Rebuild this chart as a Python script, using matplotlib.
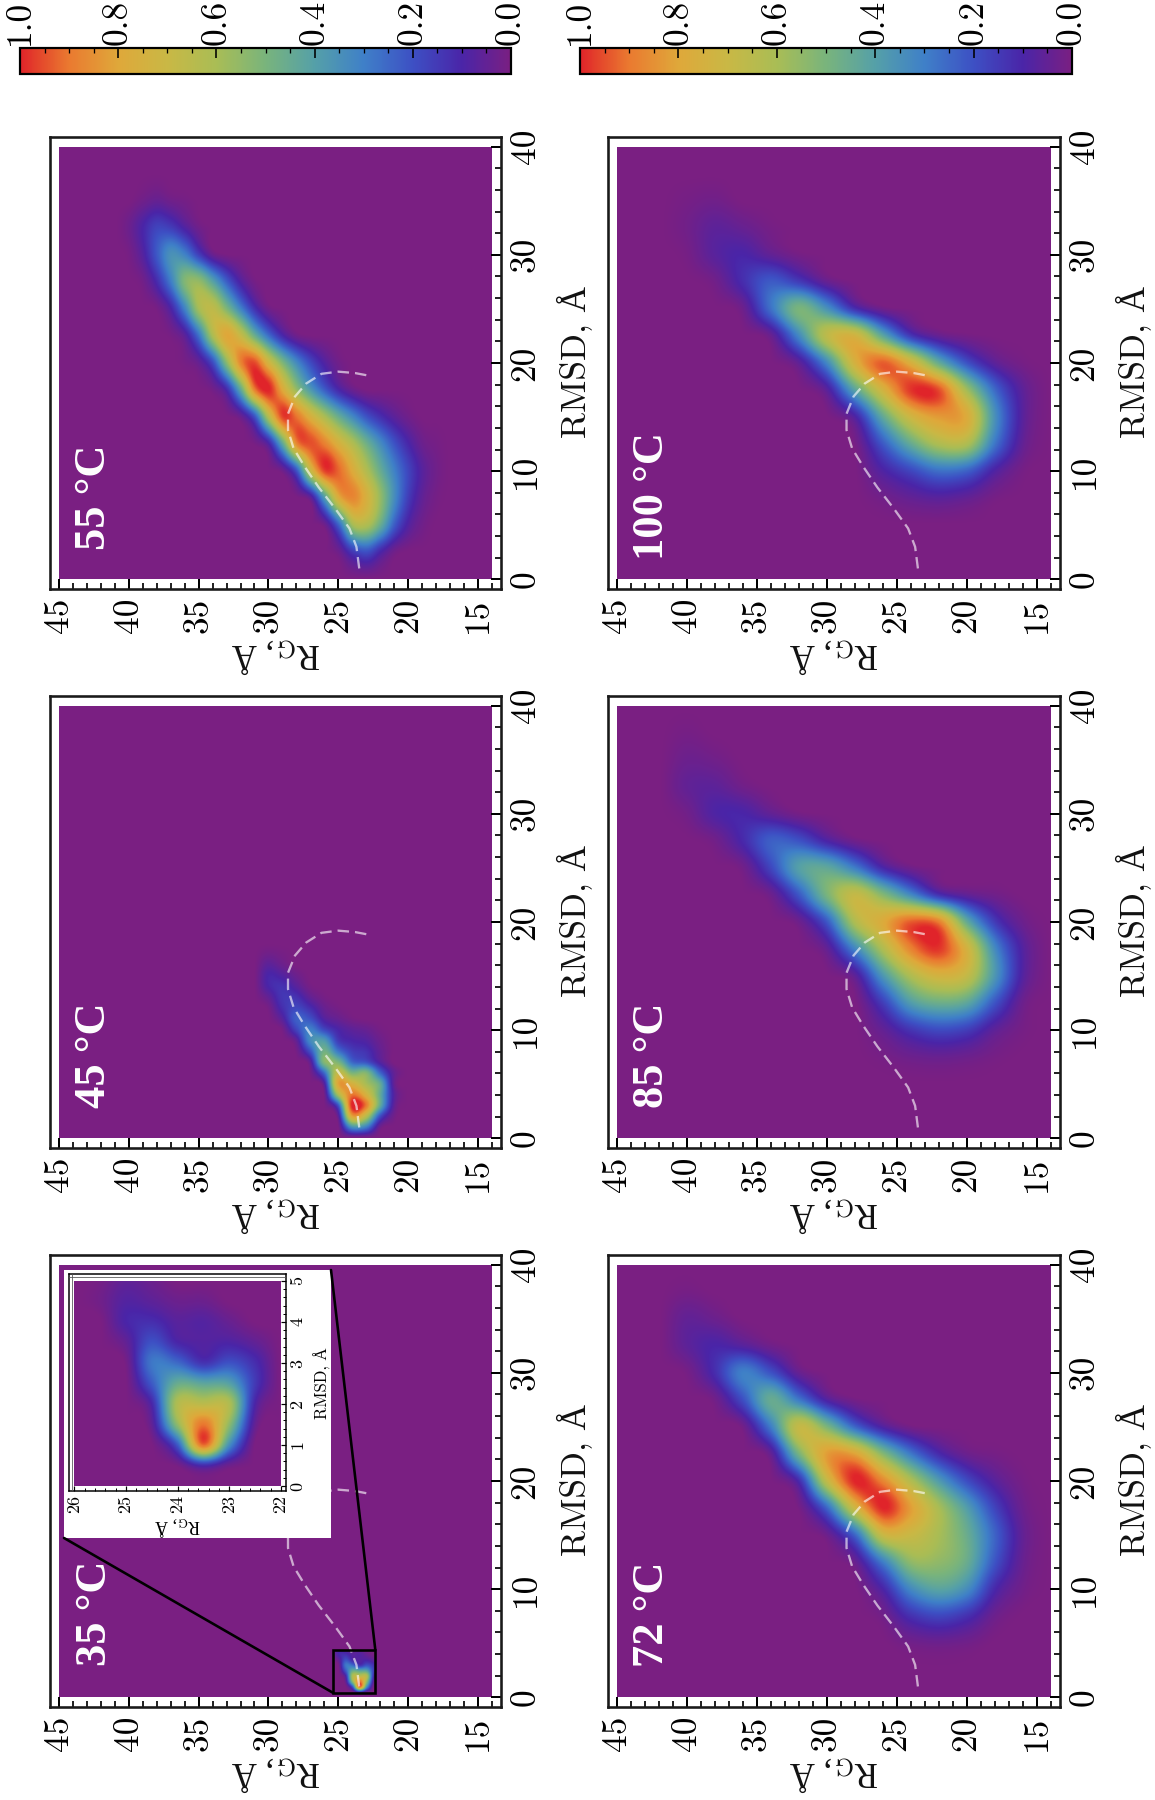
import numpy as np
import matplotlib
matplotlib.use("Agg")
import matplotlib.pyplot as plt
from matplotlib.colors import LinearSegmentedColormap, Normalize
from matplotlib.cm import ScalarMappable
from matplotlib.patches import Rectangle, ConnectionPatch
from matplotlib.lines import Line2D

plt.rcParams['mathtext.fontset'] = 'cm'
plt.rcParams['font.family'] = ['cmr10', 'Liberation Serif']
plt.rcParams['axes.unicode_minus'] = False

W, H = 1155, 1800
DPI = 100
PX = 72 / DPI

# ---------- data ----------
rg_coarse = [40, 38, 36, 34, 32, 30, 28, 26, 24, 22, 20, 18, 16]
rmsd_coarse = [37.5, 35, 32.5, 30, 27.5, 25, 22.5, 20, 17.5, 15, 12.5, 10, 7.5, 5, 2.5, 0]

rg_55 = [40, 39, 38, 37, 36, 35, 34, 33, 32, 31, 30, 29, 28, 27, 26, 25, 24, 23, 22, 21, 20, 19, 18]
rmsd_55 = [35, 32.5, 30, 27.5, 25, 22.5, 20, 17.5, 15, 12.5, 10, 7.5, 5, 2.5, 0]
d55 = [
    [0, .02, .04, .02, .01, 0, 0, 0, 0, 0, 0, 0, 0, 0, 0, 0, 0, 0, 0, 0, 0, 0, 0],
    [.03, .1, .17, .15, .08, .02, 0, 0, 0, 0, 0, 0, 0, 0, 0, 0, 0, 0, 0, 0, 0, 0, 0],
    [.01, .08, .22, .35, .3, .15, .03, 0, 0, 0, 0, 0, 0, 0, 0, 0, 0, 0, 0, 0, 0, 0, 0],
    [0, .02, .12, .3, .52, .55, .4, .22, .08, .01, 0, 0, 0, 0, 0, 0, 0, 0, 0, 0, 0, 0, 0],
    [0, 0, .01, .1, .32, .6, .66, .5, .3, .12, .02, 0, 0, 0, 0, 0, 0, 0, 0, 0, 0, 0, 0],
    [0, 0, 0, .01, .07, .28, .62, .8, .68, .45, .25, .1, .02, 0, 0, 0, 0, 0, 0, 0, 0, 0, 0],
    [0, 0, 0, 0, .01, .05, .2, .55, .88, .95, .72, .5, .32, .18, .08, .02, 0, 0, 0, 0, 0, 0, 0],
    [0, 0, 0, 0, 0, 0, .02, .12, .45, .9, 1.0, .78, .55, .37, .22, .1, .03, 0, 0, 0, 0, 0, 0],
    [0, 0, 0, 0, 0, 0, 0, 0, .04, .22, .65, .97, .9, .75, .6, .45, .32, .2, .12, .06, .02, 0, 0],
    [0, 0, 0, 0, 0, 0, 0, 0, 0, .01, .1, .45, .88, .95, .88, .75, .62, .47, .33, .2, .1, .03, .01],
    [0, 0, 0, 0, 0, 0, 0, 0, 0, 0, 0, .03, .22, .7, .97, .92, .78, .62, .45, .3, .17, .07, .02],
    [0, 0, 0, 0, 0, 0, 0, 0, 0, 0, 0, 0, 0, .06, .4, .78, .87, .75, .55, .33, .15, .05, .01],
    [0, 0, 0, 0, 0, 0, 0, 0, 0, 0, 0, 0, 0, 0, .03, .25, .6, .62, .45, .22, .08, .02, 0],
    [0, 0, 0, 0, 0, 0, 0, 0, 0, 0, 0, 0, 0, 0, 0, .03, .15, .2, .1, .02, 0, 0, 0],
    [0, 0, 0, 0, 0, 0, 0, 0, 0, 0, 0, 0, 0, 0, 0, 0, 0, 0, 0, 0, 0, 0, 0],
]

d100 = [
    [0, 0, 0, 0, 0, 0, 0, 0, 0, 0, 0, 0, 0],
    [.01, .02, 0, 0, 0, 0, 0, 0, 0, 0, 0, 0, 0],
    [.02, .06, .04, .01, 0, 0, 0, 0, 0, 0, 0, 0, 0],
    [.01, .07, .1, .05, .01, 0, 0, 0, 0, 0, 0, 0, 0],
    [0, .02, .12, .22, .15, .04, 0, 0, 0, 0, 0, 0, 0],
    [0, 0, .03, .27, .5, .35, .12, .02, 0, 0, 0, 0, 0],
    [0, 0, 0, .04, .33, .66, .73, .42, .14, .04, .01, 0, 0],
    [0, 0, 0, 0, .06, .33, .75, .93, .75, .44, .2, .06, .01],
    [0, 0, 0, 0, 0, .07, .42, .74, .98, .95, .58, .25, .06],
    [0, 0, 0, 0, 0, 0, .09, .44, .72, .83, .78, .35, .07],
    [0, 0, 0, 0, 0, 0, .01, .22, .45, .62, .62, .28, .05],
    [0, 0, 0, 0, 0, 0, 0, .09, .18, .27, .24, .09, .01],
    [0, 0, 0, 0, 0, 0, 0, .02, .05, .07, .05, .01, 0],
    [0, 0, 0, 0, 0, 0, 0, 0, 0, 0, 0, 0, 0],
    [0, 0, 0, 0, 0, 0, 0, 0, 0, 0, 0, 0, 0],
    [0, 0, 0, 0, 0, 0, 0, 0, 0, 0, 0, 0, 0],
]

d85 = [
    [.01, 0, 0, 0, 0, 0, 0, 0, 0, 0, 0, 0, 0],
    [.03, .02, 0, 0, 0, 0, 0, 0, 0, 0, 0, 0, 0],
    [.05, .06, .02, 0, 0, 0, 0, 0, 0, 0, 0, 0, 0],
    [.02, .09, .1, .05, .01, 0, 0, 0, 0, 0, 0, 0, 0],
    [0, .02, .11, .23, .2, .09, .02, 0, 0, 0, 0, 0, 0],
    [0, 0, .02, .18, .4, .43, .29, .1, .02, 0, 0, 0, 0],
    [0, 0, 0, .03, .22, .5, .68, .52, .32, .12, .05, .02, 0],
    [0, 0, 0, 0, .03, .22, .62, .78, .93, .88, .44, .15, .03],
    [0, 0, 0, 0, 0, .05, .32, .62, .88, .98, .74, .33, .08],
    [0, 0, 0, 0, 0, 0, .06, .37, .62, .74, .68, .37, .08],
    [0, 0, 0, 0, 0, 0, 0, .16, .39, .47, .43, .21, .03],
    [0, 0, 0, 0, 0, 0, 0, .05, .14, .19, .16, .06, .01],
    [0, 0, 0, 0, 0, 0, 0, .01, .03, .04, .03, .01, 0],
    [0, 0, 0, 0, 0, 0, 0, 0, 0, 0, 0, 0, 0],
    [0, 0, 0, 0, 0, 0, 0, 0, 0, 0, 0, 0, 0],
    [0, 0, 0, 0, 0, 0, 0, 0, 0, 0, 0, 0, 0],
]

d72 = [
    [.01, 0, 0, 0, 0, 0, 0, 0, 0, 0, 0, 0, 0],
    [.05, .03, 0, 0, 0, 0, 0, 0, 0, 0, 0, 0, 0],
    [.06, .1, .07, .02, 0, 0, 0, 0, 0, 0, 0, 0, 0],
    [.01, .12, .3, .2, .04, 0, 0, 0, 0, 0, 0, 0, 0],
    [0, .02, .2, .45, .28, .08, .01, 0, 0, 0, 0, 0, 0],
    [0, 0, .02, .3, .68, .5, .24, .08, .01, 0, 0, 0, 0],
    [0, 0, 0, .05, .5, .82, .8, .52, .28, .11, .03, .01, 0],
    [0, 0, 0, 0, .12, .68, 1.0, .87, .62, .38, .19, .07, .01],
    [0, 0, 0, 0, .01, .25, .72, 1.0, .82, .6, .39, .17, .03],
    [0, 0, 0, 0, 0, .03, .25, .7, .7, .6, .46, .24, .05],
    [0, 0, 0, 0, 0, 0, .04, .3, .55, .55, .46, .21, .04],
    [0, 0, 0, 0, 0, 0, 0, .1, .33, .42, .34, .11, .02],
    [0, 0, 0, 0, 0, 0, 0, .02, .13, .18, .13, .03, 0],
    [0, 0, 0, 0, 0, 0, 0, 0, .02, .03, .02, 0, 0],
    [0, 0, 0, 0, 0, 0, 0, 0, 0, 0, 0, 0, 0],
    [0, 0, 0, 0, 0, 0, 0, 0, 0, 0, 0, 0, 0],
]

rg_45 = [30, 29, 28, 27, 26, 25, 24, 23, 22, 21, 20]
rmsd_45 = [17, 16, 15, 14, 13, 12, 11, 10, 9, 8, 7, 6, 5, 4, 3, 2, 1, 0]
d45 = [
    [.02, .01, 0, 0, 0, 0, 0, 0, 0, 0, 0],
    [.06, .03, 0, 0, 0, 0, 0, 0, 0, 0, 0],
    [.1, .08, .03, 0, 0, 0, 0, 0, 0, 0, 0],
    [.1, .13, .07, .01, 0, 0, 0, 0, 0, 0, 0],
    [.05, .14, .13, .05, .01, 0, 0, 0, 0, 0, 0],
    [.01, .12, .18, .12, .04, .01, 0, 0, 0, 0, 0],
    [0, .07, .23, .2, .08, .04, .01, 0, 0, 0, 0],
    [0, .01, .17, .3, .18, .1, .06, .04, .01, 0, 0],
    [0, 0, .05, .33, .38, .15, .1, .08, .03, 0, 0],
    [0, 0, .01, .2, .48, .28, .16, .13, .05, 0, 0],
    [0, 0, 0, .05, .52, .5, .25, .2, .08, 0, 0],
    [0, 0, 0, .01, .25, .68, .5, .52, .25, .05, 0],
    [0, 0, 0, 0, .07, .8, .75, .6, .45, .05, 0],
    [0, 0, 0, 0, .01, .6, .9, .75, .45, .08, 0],
    [0, 0, 0, 0, 0, .2, 1.0, .9, .45, .06, 0],
    [0, 0, 0, 0, 0, .05, .8, .65, .2, .02, 0],
    [0, 0, 0, 0, 0, 0, .35, .3, .03, 0, 0],
    [0, 0, 0, 0, 0, 0, 0, 0, 0, 0, 0],
]

rg_35 = [26, 25.5, 25, 24.5, 24, 23.5, 23, 22.5, 22]
rmsd_35 = [5, 4.5, 4, 3.5, 3, 2.5, 2, 1.5, 1, .5, 0]
d35 = [
    [0, .01, .05, .03, 0, 0, 0, 0, 0],
    [0, .02, .08, .06, .03, .03, 0, 0, 0],
    [0, 0, .1, .12, .07, .08, .04, 0, 0],
    [0, 0, .05, .2, .1, .08, .09, .05, 0],
    [0, 0, .01, .28, .25, .13, .2, .12, 0],
    [0, 0, 0, .22, .45, .42, .4, .15, 0],
    [0, 0, 0, .1, .62, .65, .62, .1, 0],
    [0, 0, 0, .05, .55, .9, .55, .05, 0],
    [0, 0, 0, 0, .22, .92, .35, 0, 0],
    [0, 0, 0, 0, .01, .12, .03, 0, 0],
    [0, 0, 0, 0, 0, 0, 0, 0, 0],
]

curve_rg = [23.5, 23.7, 24.2, 25.2, 26.4, 27.4, 28.2, 28.6, 28.6, 28.1, 27.3, 26.2, 25.0, 23.8, 22.7]
curve_rmsd = [1.0, 3.0, 4.7, 6.5, 8.5, 10.4, 12.1, 13.8, 15.3, 16.9, 18.1, 19.0, 19.2, 19.07, 18.8]

zoom_rg = [25.4, 22.35]
zoom_rmsd = [0.43, 4.4]

rg_ticks = [45, 40, 35, 30, 25, 20, 15]
rmsd_ticks = [0, 10, 20, 30, 40]
rg_minor = list(range(14, 46))
rmsd_minor = list(range(0, 41, 2))
inset_rg_ticks = [26, 25, 24, 23, 22]
inset_rmsd_ticks = [0, 1, 2, 3, 4, 5]
cbar_ticks = [0.0, 0.2, 0.4, 0.6, 0.8, 1.0]
cbar_minor = [i * 0.05 for i in range(21)]

panel_labels = ['55 °C', '45 °C', '35 °C', '100 °C', '85 °C', '72 °C']
xlabel_text = 'RMSD, Å'
ylabel_text = r'R$_{\mathrm{G}}$, Å'

cmap_pos = [0.0, 0.1, 0.2, 0.3, 0.4, 0.5, 0.6, 0.7, 0.8, 0.9, 0.95, 1.0]
cmap_col = ['#7a1f82', '#4a25a8', '#3d50c4', '#3f80c8', '#55a0a8', '#79b47c', '#a9bd55',
            '#c9b845', '#dfa83a', '#ea7a30', '#e5502c', '#e0242a']
cmap = LinearSegmentedColormap.from_list('rainbowish', list(zip(cmap_pos, cmap_col)), N=512)
norm = Normalize(0, 1)


def px_rect(l, t, r, b):
    return [l / W, 1 - b / H, (r - l) / W, (b - t) / H]


def draw_density(ax, rg, rmsd, data, clip):
    rg = np.asarray(rg, float)
    rmsd = np.asarray(rmsd, float)
    arr = np.pad(np.asarray(data, float), 1)
    dr = abs(rg[1] - rg[0])
    ds = abs(rmsd[1] - rmsd[0])
    ext = (rg[0] + 1.5 * dr, rg[-1] - 1.5 * dr, rmsd[-1] - 1.5 * ds, rmsd[0] + 1.5 * ds)
    im = ax.imshow(arr, extent=ext, origin='upper', cmap=cmap, norm=norm, aspect='auto',
                   interpolation='catrom', interpolation_stage='data', zorder=1)
    im.set_clip_path(clip)
    return im


fig = plt.figure(figsize=(W / DPI, H / DPI), dpi=DPI, facecolor='white')

col_x = [(50, 501), (608, 1060)]
row_y = [(137, 589), (696, 1148), (1255, 1707)]
grids = [
    [(rg_55, rmsd_55, d55), (rg_45, rmsd_45, d45), (rg_35, rmsd_35, d35)],
    [(rg_coarse, rmsd_coarse, d100), (rg_coarse, rmsd_coarse, d85), (rg_coarse, rmsd_coarse, d72)],
]
label_xy = [[(94, 497), (94, 1055), (95, 1613)], [(652, 496), (652, 1055), (652, 1614)]]

main_axes = {}
idx = 0
for c, (l, r) in enumerate(col_x):
    for rw, (t, b) in enumerate(row_y):
        ax = fig.add_axes(px_rect(l, t, r, b))
        ax.set_facecolor('white')
        ax.add_patch(Rectangle((45, 0), -31, 40, facecolor=cmap(0.0), edgecolor='none', zorder=0.5))
        clip = Rectangle((45, 0), -31, 40, transform=ax.transData)
        rg, rm, dd = grids[c][rw]
        draw_density(ax, rg, rm, dd, clip)
        ax.plot(curve_rg, curve_rmsd, color='white', alpha=0.62, lw=2.3 * PX, ls=(0, (5, 2.6)), zorder=3)
        ax.set_xlim(45.64, 13.35)
        ax.set_ylim(-0.9, 40.9)
        ax.set_xticks(rg_ticks)
        ax.set_xticklabels([str(v) for v in rg_ticks], rotation=90, ha='center', va='top', fontsize=25.5)
        ax.set_xticks(rg_minor, minor=True)
        ax.yaxis.tick_right()
        ax.set_yticks(rmsd_ticks)
        ax.set_yticklabels([str(v) for v in rmsd_ticks], rotation=90, ha='left', va='center', fontsize=25.5)
        ax.set_yticks(rmsd_minor, minor=True)
        ax.tick_params(which='major', direction='in', length=10 * PX, width=2 * PX, pad=9 * PX, zorder=0.2)
        ax.tick_params(which='minor', direction='in', length=6.5 * PX, width=1.7 * PX, zorder=0.2)
        for s in ax.spines.values():
            s.set_linewidth(2.6 * PX)
            s.set_color('#1a1a1a')
        cy = (t + b) / 2
        cx = (l + r) / 2
        fig.text((r + 74) / W, 1 - (cy - 1) / H, xlabel_text, rotation=90, ha='center', va='center', fontsize=25.5, color='#111111')
        fig.text(cx / W, 1 - (b + 66) / H, ylabel_text, rotation=180, ha='center', va='center', fontsize=25,
                 color='#111111', family='Liberation Serif')
        lx, ly = label_xy[c][rw]
        fig.text(lx / W, 1 - ly / H, panel_labels[idx], rotation=90, ha='center', va='center', fontsize=32,
                 color='white', family='Liberation Serif', weight='bold', zorder=10)
        main_axes[idx] = ax
        idx += 1

# ---------- inset of the 35 °C panel ----------
ax35 = main_axes[2]
box_ax = fig.add_axes(px_rect(64, 1270, 331, 1538), facecolor='white', zorder=5)
box_ax.set_xticks([])
box_ax.set_yticks([])
for s in box_ax.spines.values():
    s.set_visible(False)

ax35.add_patch(Rectangle((zoom_rg[0], zoom_rmsd[0]), zoom_rg[1] - zoom_rg[0], zoom_rmsd[1] - zoom_rmsd[0],
                         facecolor='none', edgecolor='black', lw=2.6 * PX, zorder=4))
clip_zoom = Rectangle((zoom_rg[0], zoom_rmsd[0]), zoom_rg[1] - zoom_rg[0], zoom_rmsd[1] - zoom_rmsd[0], transform=ax35.transData)
for child in list(ax35.images):
    child.set_clip_path(clip_zoom)

for xyA, xyB in [((0, 0), (zoom_rg[0], zoom_rmsd[0])), ((1, 1), (zoom_rg[1], zoom_rmsd[1]))]:
    con = ConnectionPatch(xyA=xyA, coordsA=box_ax.transAxes, xyB=xyB, coordsB=ax35.transData,
                          color='black', lw=2.6 * PX, zorder=6)
    fig.add_artist(con)

ins = fig.add_axes(px_rect(69, 1274, 286, 1491), facecolor='white', zorder=7)
ins.add_patch(Rectangle((26, 0), -4, 5, facecolor=cmap(0.0), edgecolor='none', zorder=0.5))
clip_in = Rectangle((26, 0), -4, 5, transform=ins.transData)
draw_density(ins, rg_35, rmsd_35, d35, clip_in)
ins.set_xlim(26.10, 21.90)
ins.set_ylim(-0.12, 5.17)
ins.set_xticks(inset_rg_ticks)
ins.set_xticklabels([str(v) for v in inset_rg_ticks], rotation=90, ha='center', va='top', fontsize=13)
ins.set_xticks(np.arange(22, 26.01, 0.2), minor=True)
ins.yaxis.tick_right()
ins.set_yticks(inset_rmsd_ticks)
ins.set_yticklabels([str(v) for v in inset_rmsd_ticks], rotation=90, ha='left', va='center', fontsize=13)
ins.set_yticks(np.arange(0, 5.01, 0.2), minor=True)
ins.tick_params(which='major', direction='in', length=5 * PX, width=1.2 * PX, pad=4 * PX, zorder=0.2)
ins.tick_params(which='minor', direction='in', length=3 * PX, width=1 * PX, zorder=0.2)
for s in ins.spines.values():
    s.set_linewidth(1.5 * PX)
ins.add_line(Line2D([0.012, 0.012], [0, 1], transform=ins.transAxes, color='#555555', lw=0.8 * PX, zorder=3))
ins.add_line(Line2D([0, 1], [0.988, 0.988], transform=ins.transAxes, color='#555555', lw=0.8 * PX, zorder=3))
fig.text(177 / W, 1 - 1526 / H, ylabel_text, rotation=180, ha='center', va='center', fontsize=13, zorder=8,
         family='Liberation Serif')
fig.text(322 / W, 1 - 1383 / H, xlabel_text, rotation=90, ha='center', va='center', fontsize=12, zorder=8)

# ---------- colour bars ----------
for (l, r) in [(20, 511), (580, 1072)]:
    cax = fig.add_axes(px_rect(l, 48, r, 74))
    cb = fig.colorbar(ScalarMappable(norm=norm, cmap=cmap), cax=cax, orientation='horizontal')
    cax.set_xlim(1, 0)
    cax.xaxis.tick_top()
    cax.set_xticks(cbar_ticks)
    cax.set_xticklabels([f'{v:.1f}' for v in cbar_ticks], rotation=90, ha='center', va='bottom', fontsize=25.5)
    cax.set_xticks(cbar_minor, minor=True)
    cax.tick_params(which='major', direction='in', length=10 * PX, width=1.6 * PX, pad=3 * PX, top=True, bottom=False)
    cax.tick_params(which='minor', direction='in', length=5 * PX, width=1.3 * PX, top=True, bottom=False)
    cb.outline.set_linewidth(2.2 * PX)

fig.savefig('out.png', dpi=DPI, facecolor='white')
